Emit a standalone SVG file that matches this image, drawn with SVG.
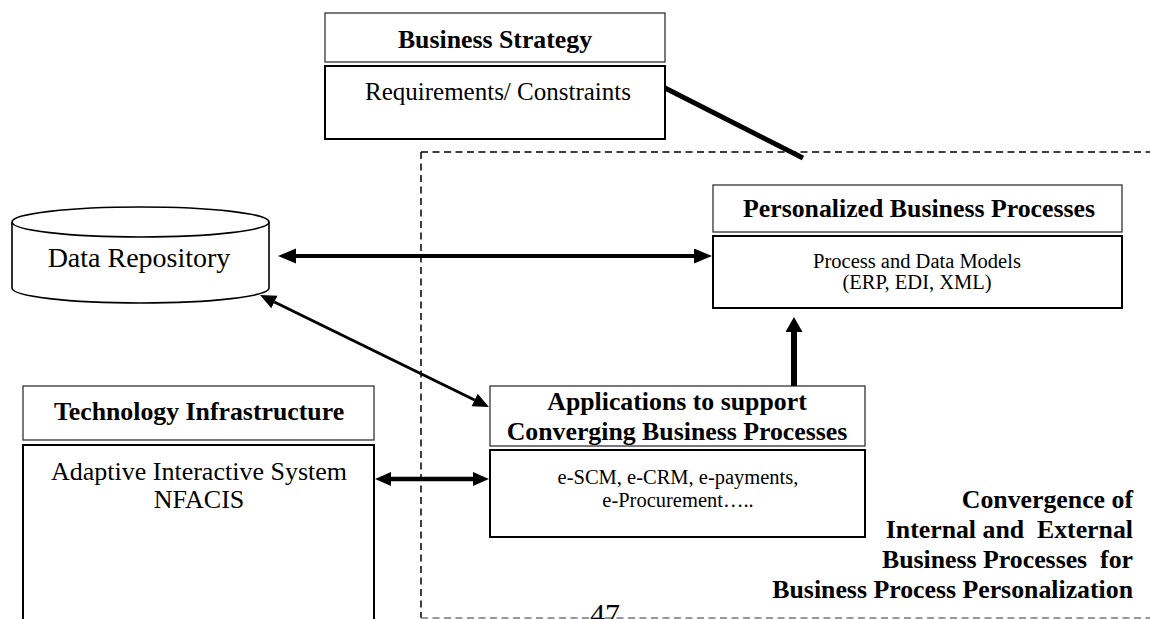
<svg xmlns="http://www.w3.org/2000/svg" width="1150" height="619" viewBox="0 0 1150 619">
<style>
.hdr{fill:#fff;stroke:#333;stroke-width:1.3}
.box{fill:#fff;stroke:#000;stroke-width:2}
.b{font-family:"Liberation Serif","Times New Roman",serif;font-weight:bold;font-size:25.8px;fill:#000;text-anchor:middle}
.r{font-family:"Liberation Serif","Times New Roman",serif;font-size:25px;fill:#000;text-anchor:middle}
.s{font-family:"Liberation Serif","Times New Roman",serif;font-size:20.5px;fill:#000;text-anchor:middle}
.dash{fill:none;stroke:#000;stroke-width:1.5;stroke-dasharray:7 4.5}
.conn{fill:none;stroke:#000}
</style>
<defs>
<marker id="ah" markerUnits="userSpaceOnUse" markerWidth="20" markerHeight="16" refX="0" refY="7.5" orient="auto-start-reverse"><path d="M0,0 L18,7.5 L0,15 z" fill="#000"/></marker>
<marker id="ahs" markerUnits="userSpaceOnUse" markerWidth="18" markerHeight="16" refX="0" refY="7" orient="auto-start-reverse"><path d="M0,0 L16,7 L0,14 z" fill="#000"/></marker>
<marker id="ahu" markerUnits="userSpaceOnUse" markerWidth="18" markerHeight="18" refX="0" refY="8.5" orient="auto"><path d="M0,0 L15,8.5 L0,17 z" fill="#000"/></marker>
</defs>

<g id="boundary">
<path class="dash" d="M421,152 L1150,152"/>
<path class="dash" d="M421,152 L421,618"/>
<path class="dash" d="M421,618 L1150,618" style="stroke:#777"/>
</g>

<g id="business-strategy">
<rect class="hdr" x="325" y="13" width="340" height="49"/>
<text class="b" x="495" y="48">Business Strategy</text>
<rect class="box" x="325" y="66" width="340" height="73"/>
<text class="r" x="498" y="100">Requirements/ Constraints</text>
</g>

<g id="data-repository">
<path d="M12,222 L12,288 A128.5,15 0 0 0 269,288 L269,222" fill="#fff" stroke="#000" stroke-width="1.6"/>
<ellipse cx="140.5" cy="222" rx="128.5" ry="15" fill="#fff" stroke="#000" stroke-width="1.6"/>
<text class="r" x="139" y="267" style="font-size:28px">Data Repository</text>
</g>

<g id="personalized">
<rect class="hdr" x="713" y="185" width="409" height="47"/>
<text class="b" x="919" y="217">Personalized Business Processes</text>
<rect class="box" x="713" y="236" width="409" height="72"/>
<text class="s" x="917" y="268">Process and Data Models</text>
<text class="s" x="917" y="289">(ERP, EDI, XML)</text>
</g>

<g id="applications">
<rect class="hdr" x="490" y="386" width="375" height="60"/>
<text class="b" x="677" y="410">Applications to support</text>
<text class="b" x="677" y="440">Converging Business Processes</text>
<rect class="box" x="490" y="450" width="375" height="87"/>
<text class="s" x="678" y="484">e-SCM, e-CRM, e-payments,</text>
<text class="s" x="678" y="507">e-Procurement…..</text>
</g>

<g id="technology">
<rect class="hdr" x="23" y="386" width="351" height="54"/>
<text class="b" x="199" y="420">Technology Infrastructure</text>
<rect class="box" x="23" y="445" width="351" height="190"/>
<text class="r" x="199" y="480" style="font-size:26px">Adaptive Interactive System</text>
<text class="r" x="199" y="508" style="font-size:26px">NFACIS</text>
</g>

<g id="convergence-label">
<text class="b" x="1133" y="508" style="text-anchor:end">Convergence of</text>
<text class="b" x="1133" y="538" style="text-anchor:end" xml:space="preserve">Internal and  External</text>
<text class="b" x="1133" y="568" style="text-anchor:end" xml:space="preserve">Business Processes  for</text>
<text class="b" x="1133" y="598" style="text-anchor:end">Business Process Personalization</text>
</g>

<g id="page-number">
<text class="r" x="605" y="624" style="font-size:30px">47</text>
</g>

<g id="connectors">
<line class="conn" x1="665" y1="88" x2="803" y2="158" stroke-width="5"/>
<line class="conn" x1="296" y1="256" x2="694" y2="256" stroke-width="4" marker-start="url(#ah)" marker-end="url(#ah)"/>
<line class="conn" x1="274.4" y1="302" x2="474.6" y2="400" stroke-width="3" marker-start="url(#ahs)" marker-end="url(#ahs)"/>
<line class="conn" x1="794" y1="386" x2="794" y2="332" stroke-width="6" marker-end="url(#ahu)"/>
<line class="conn" x1="391" y1="479" x2="473" y2="479" stroke-width="4.5" marker-start="url(#ahs)" marker-end="url(#ahs)"/>
</g>
</svg>
